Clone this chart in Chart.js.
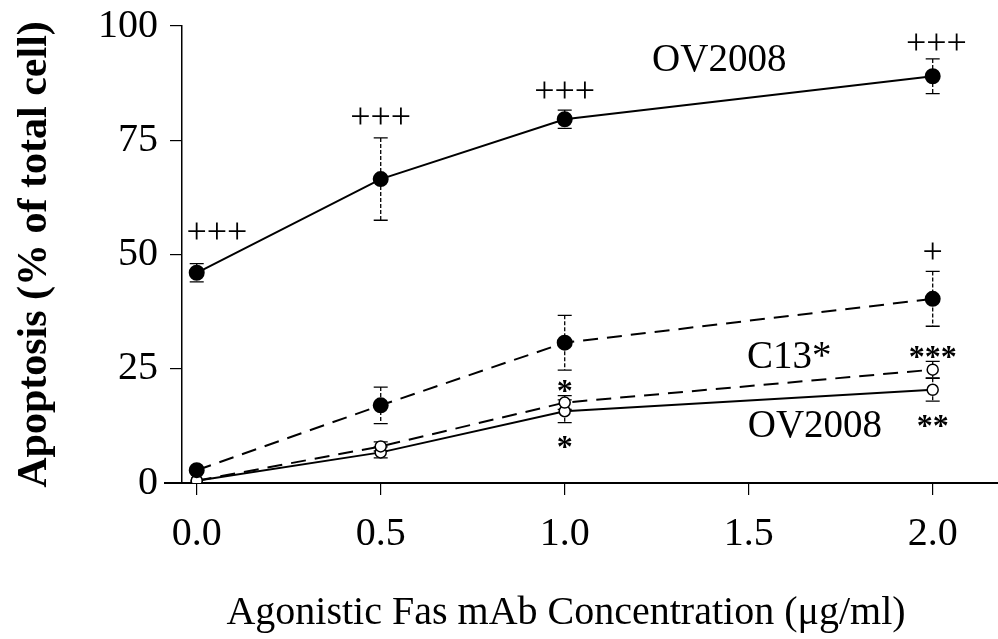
<!DOCTYPE html>
<html>
<head>
<meta charset="utf-8">
<script src="https://cdn.jsdelivr.net/npm/chart.js@4.4.1/dist/chart.umd.min.js"></script>
<style>
  html,body{margin:0;padding:0;background:#fff;overflow:hidden;}
  #wrap{width:998px;height:639px;}
</style>
</head>
<body>
<div id="wrap"><canvas id="c"></canvas></div>
<script>
// Fas mAb concentration (ug/ml)
const conc = [0, 0.5, 1.0, 2.0];
const xTicks = [0, 0.5, 1.0, 1.5, 2.0];
const yTicks = [0, 25, 50, 75, 100];

// apoptosis % (mean, error)
const ovFas    = [46, 66.5, 79.6, 89];
const ovFasErr = [2, 9, 2, 3.8];
const c13Fas    = [2.8, 17, 30.7, 40.3];
const c13FasErr = [0, 4, 6, 6];
const c13Ctl    = [0.5, 8, 17.6, 24.8];
const c13CtlErr = [0, 1, 1.5, 1.8];
const ovCtl    = [0.5, 6.7, 15.7, 20.4];
const ovCtlErr = [0, 1.2, 2.5, 2.5];

// significance marks and curve labels [text, x, y]
const marks = [
  ['+++', 0.055, 54.5], ['+++', 0.5, 79.7], ['+++', 1.0, 85.4], ['+++', 2.01, 95.9], ['+', 2.0, 50.3],
  ['*', 1.0, 21.1], ['*', 1.0, 8.9], ['***', 2.0, 28.5], ['**', 2.0, 13.5]
];
const curveLabels = [['OV2008', 1.42, 92.4], ['C13*', 1.61, 27.5], ['OV2008', 1.68, 12.2]];

const SERIF = '"Liberation Serif", "Times New Roman", serif';
const pts = arr => conc.map((x,i)=>({x, y:arr[i]}));

const extras = {
  id:'extras',
  beforeDatasetsDraw(chart){
    const {ctx, scales:{x,y}} = chart;
    const y0 = y.getPixelForValue(0);
    ctx.save();
    ctx.strokeStyle = '#000';
    // x axis sticks out left of the y axis and runs to the edge
    ctx.lineWidth = 2;
    ctx.beginPath(); ctx.moveTo(chart.chartArea.left-18, y0); ctx.lineTo(chart.width, y0); ctx.stroke();
    ctx.lineWidth = 1.3;
    [[ovFas,ovFasErr],[c13Fas,c13FasErr],[c13Ctl,c13CtlErr],[ovCtl,ovCtlErr]].forEach(([vals,errs])=>{
      vals.forEach((v,i)=>{
        const e = errs[i]; if(!e) return;
        const px = x.getPixelForValue(conc[i]), top = y.getPixelForValue(v+e), bot = y.getPixelForValue(v-e);
        ctx.setLineDash([4,2]);
        ctx.beginPath(); ctx.moveTo(px,top); ctx.lineTo(px,bot); ctx.stroke();
        ctx.setLineDash([]);
        ctx.beginPath(); ctx.moveTo(px-7,top); ctx.lineTo(px+7,top); ctx.moveTo(px-7,bot); ctx.lineTo(px+7,bot); ctx.stroke();
      });
    });
    ctx.restore();
  },
  afterDatasetsDraw(chart){
    const {ctx, scales:{x,y}} = chart;
    ctx.save();
    ctx.fillStyle = '#000'; ctx.textAlign = 'center'; ctx.textBaseline = 'middle';
    marks.forEach(([t,vx,vy])=>{
      const star = t[0]==='*';
      ctx.font = star ? 'bold 32px '+SERIF : '36px '+SERIF;
      ctx.fillText(t, x.getPixelForValue(vx), y.getPixelForValue(vy) + (star?6:0));
    });
    ctx.font = '39px '+SERIF;
    curveLabels.forEach(([t,vx,vy])=> ctx.fillText(t, x.getPixelForValue(vx), y.getPixelForValue(vy)));
    // x axis title
    ctx.font = '40px '+SERIF;
    ctx.fillText('Agonistic Fas mAb Concentration (\u03bcg/ml)', 566, 613);
    ctx.restore();
  }
};

new Chart(document.getElementById('c'), {
  type:'line',
  data:{ datasets:[
    {label:'OV2008 + Fas', data:pts(ovFas), borderColor:'#000', backgroundColor:'#000', borderWidth:2,
      pointRadius:7, pointBackgroundColor:'#000', pointBorderColor:'#000'},
    {label:'C13 + Fas', data:pts(c13Fas), borderColor:'#000', backgroundColor:'#000', borderWidth:2, borderDash:[15,9],
      pointRadius:7, pointBackgroundColor:'#000', pointBorderColor:'#000'},
    {label:'C13*', data:pts(c13Ctl), borderColor:'#000', borderWidth:2, borderDash:[15,9],
      pointRadius:5.5, pointBackgroundColor:'#fff', pointBorderColor:'#000', pointBorderWidth:1.5},
    {label:'OV2008', data:pts(ovCtl), borderColor:'#000', borderWidth:2,
      pointRadius:5.5, pointBackgroundColor:'#fff', pointBorderColor:'#000', pointBorderWidth:1.5},
  ]},
  options:{
    responsive:true, maintainAspectRatio:false, animation:false,
    layout:{ padding:0 },
    plugins:{ legend:{display:false}, tooltip:{enabled:false} },
    scales:{
      x:{ type:'linear', min:-0.04, max:2.153,
        afterBuildTicks: s => { s.ticks = xTicks.map(v=>({value:v})); },
        afterFit: s => { s.height = 156; },
        border:{ color:'#000', width:2 },
        grid:{ drawOnChartArea:false, drawTicks:true, tickLength:12, color:'#000', lineWidth:1.2 },
        ticks:{ color:'#000', padding:15, maxRotation:0, font:{family:SERIF, size:40}, callback:v=>v.toFixed(1) }
      },
      y:{ min:0, max:100,
        afterBuildTicks: s => { s.ticks = yTicks.map(v=>({value:v})); },
        afterFit: s => { s.width = 182; },
        border:{ color:'#000', width:1.5 },
        grid:{ drawOnChartArea:false, drawTicks:true, tickLength:12, color:'#000', lineWidth:1.2 },
        ticks:{ color:'#000', padding:12, font:{family:SERIF, size:40, lineHeight:0.7} },
        title:{ display:true, text:'Apoptosis (% of total cell)', color:'#000', padding:{top:10, bottom:0},
          font:{family:SERIF, size:42, weight:'bold'} }
      }
    }
  },
  plugins:[extras]
});
</script>
</body>
</html>
